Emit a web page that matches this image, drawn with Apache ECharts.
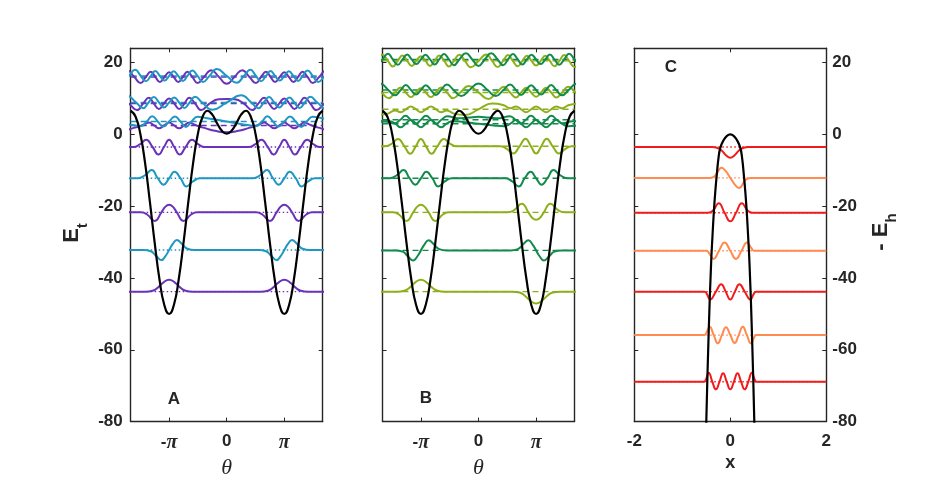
<!DOCTYPE html>
<html>
<head>
<meta charset="utf-8">
<script src="https://cdn.jsdelivr.net/npm/echarts@6/dist/echarts.min.js"></script>
<style>
  html, body { margin: 0; padding: 0; background: #fff; }
  #chart { width: 926px; height: 486px; }
</style>
</head>
<body>
<div id="chart"></div>
<script>
// black potential for panels A and B, read every 15 degrees
const thetaDeg = [-300,-285,-270,-255,-240,-225,-210,-195,-180,-165,-150,-135,-120,-105,-90,-75,-60,-45,-30,-15,
                  0,15,30,45,60,75,90,105,120,135,150,165,180,195,210,225,240,255,270,285,300];
const potAB = [6.6,5.0,0.2,-8.0,-18.8,-30.2,-40.4,-47.5,-50,-47.5,-40.4,-30.2,-18.8,-8.0,0.2,5.0,6.6,5.5,3.1,1.0,
               0.2,1.0,3.1,5.5,6.6,5.0,0.2,-8.0,-18.8,-30.2,-40.4,-47.5,-50,-47.5,-40.4,-30.2,-18.8,-8.0,0.2,5.0,6.6];

// black curve of panel C
const xC   = [-0.52,-0.5,-0.45,-0.4,-0.37,-0.34,-0.31,-0.28,-0.25,-0.21,-0.14,-0.07,0,0.07,0.14,0.21,0.25,0.28,0.31,0.34,0.37,0.4,0.45,0.5,0.52];
const potC = [-92,-80,-55,-36,-28,-21,-15.5,-11,-7,-3.8,-1.6,-0.4,0,-0.4,-1.6,-3.8,-7,-11,-15.5,-21,-28,-36,-55,-80,-92];

// levels
const energiesA = [-43.8,-32.2,-21.7,-12.2,-3.5,2.5,3.6,8.6,8.9,16.0,16.3];
const energiesB = [-43.8,-32.3,-21.7,-12.2,-3.3,3.0,4.1,7.0,11.7,12.4,20.5,20.9];
const energiesC = [-3.5,-12.1,-21.8,-32.4,-43.8,-55.9,-68.9];

// wave offsets from the level, [d, offset], d = distance from the well bottom (0..pi)
const well0 = [[0,3.3],[0.3,2.6],[0.6,1.2],[0.9,0.25],[1.3,0],[3.1416,0]];
const well1 = [[0,0],[0.2,1.7],[0.42,2.8],[0.7,1.7],[1.0,0.35],[1.4,0],[3.1416,0]];
const well2 = [[0,2.1],[0.2,1.6],[0.42,0],[0.78,-2.4],[1.2,-0.6],[1.55,0],[3.1416,0]];
const well3 = [[0,0],[0.3,1.8],[0.62,0],[0.95,-2.3],[1.3,-0.9],[1.7,0],[3.1416,0]];
const well4 = [[0,2.0],[0.28,0],[0.58,-2.1],[0.9,0],[1.25,2.0],[1.6,0.7],[1.95,0],[3.1416,0]];

const upA5  = [[0,0.8],[0.27,0],[0.55,-0.8],[0.82,0],[1.1,0.8],[1.35,0.3],[1.6,-0.2],[2.0,-0.8],[2.5,-1.5],[3.1416,-1.9]];
const upA6  = [[0,0],[0.32,1.4],[0.62,0],[0.92,-1.5],[1.22,0],[1.55,1.3],[2.0,1.0],[2.6,0.5],[3.1416,0]];
const upA7  = [[0,1.4],[0.28,0],[0.55,-1.5],[0.83,0],[1.1,1.6],[1.42,0],[1.75,-1.8],[2.2,0],[2.7,1.2],[3.1416,1.3]];
const upA8  = [[0,0],[0.28,1.4],[0.55,0],[0.83,-1.5],[1.12,0],[1.42,1.6],[1.8,0],[2.35,-2.0],[3.1416,0]];
const upA9  = [[0,1.3],[0.25,0],[0.5,-1.4],[0.75,0],[1.0,1.5],[1.27,0],[1.55,-1.7],[1.9,0],[2.3,1.9],[2.72,0],[3.1416,-1.9]];
const upA10 = [[0,0],[0.25,1.3],[0.5,0],[0.75,-1.4],[1.0,0],[1.27,1.5],[1.55,0],[1.85,-1.7],[2.2,0],[2.6,1.9],[3.1416,0]];

const upB5  = [[0,-1.0],[0.27,0],[0.55,1.0],[0.82,0],[1.1,-1.0],[1.4,0],[1.75,0.7],[2.3,0.5],[3.1416,0]];
const upB6  = [[0,0],[0.28,1.1],[0.56,0],[0.84,-1.1],[1.12,0],[1.45,1.0],[2.0,0.4],[2.6,0.6],[3.1416,0.8]];
const upB7  = [[0,-0.8],[0.27,0],[0.55,0.8],[0.82,0],[1.1,-0.8],[1.4,-0.3],[1.8,-1.2],[2.4,-1.6],[3.1416,0]];
const upB8  = [[0,1.2],[0.27,0],[0.54,-1.3],[0.82,0],[1.1,1.4],[1.42,0],[1.75,-1.6],[2.15,0],[2.6,1.8],[3.1416,0]];
const upB9  = [[0,0],[0.27,1.3],[0.54,0],[0.82,-1.4],[1.1,0],[1.42,1.5],[1.78,0],[2.2,-1.7],[2.65,0],[3.1416,1.8]];
const upB10 = [[0,1.3],[0.25,0],[0.5,-1.4],[0.75,0],[1.0,1.5],[1.27,0],[1.53,-1.6],[1.8,0],[2.1,1.7],[2.4,0],[2.72,-1.8],[3.1416,0]];
const upB11 = [[0,0],[0.25,1.3],[0.5,0],[0.75,-1.4],[1.0,0],[1.26,1.5],[1.53,0],[1.8,-1.6],[2.1,0],[2.45,1.7],[2.8,0],[3.1416,-1.8]];

const shapesA = [well0,well1,well2,well3,well4,upA5,upA6,upA7,upA8,upA9,upA10];
const parityA = [1,-1,1,-1,1,1,-1,1,-1,1,-1];
const shapesB = [well0,well1,well2,well3,well4,upB5,upB6,upB7,upB8,upB9,upB10,upB11];
const parityB = [1,-1,1,-1,1,1,-1,1,1,-1,1,-1];

// panel C waves, [x, offset]
const wavesC = [
  [[-0.38,0],[-0.28,-0.2],[-0.18,-1.0],[-0.09,-2.3],[0,-3.0],[0.09,-2.3],[0.18,-1.0],[0.28,-0.2],[0.38,0]],
  [[-0.42,0],[-0.32,0.5],[-0.18,2.8],[-0.09,1.8],[0,0],[0.09,-1.8],[0.18,-2.8],[0.32,-0.5],[0.42,0]],
  [[-0.46,0],[-0.36,0.6],[-0.24,2.6],[-0.12,0],[0,-2.4],[0.12,0],[0.24,2.6],[0.36,0.6],[0.46,0]],
  [[-0.5,0],[-0.44,-0.7],[-0.35,-2.3],[-0.235,0],[-0.12,2.3],[0,0],[0.12,-2.3],[0.235,0],[0.35,2.3],[0.44,0.7],[0.5,0]],
  [[-0.54,0],[-0.49,-0.6],[-0.42,-2.2],[-0.3,0],[-0.19,2.1],[-0.095,0],[0,-2.2],[0.095,0],[0.19,2.1],[0.3,0],[0.42,-2.2],[0.49,-0.6],[0.54,0]],
  [[-0.54,0],[-0.5,0.6],[-0.43,2.3],[-0.345,0],[-0.26,-2.3],[-0.175,0],[-0.09,2.2],[0,0],[0.09,-2.2],[0.175,0],[0.26,2.3],[0.345,0],[0.43,-2.3],[0.5,-0.6],[0.54,0]],
  [[-0.55,0],[-0.51,0.6],[-0.45,2.5],[-0.375,0],[-0.3,-2.1],[-0.225,0],[-0.15,2.4],[-0.075,0],[0,-2.1],[0.075,0],[0.15,2.4],[0.225,0],[0.3,-2.1],[0.375,0],[0.45,2.5],[0.51,0.6],[0.55,0]]
];

const yTicks = [-80,-60,-40,-20,0,20];

var P = '#6a32b8', T = '#1f97c2', G = '#128a4b', Y = '#8cb01a', R = '#f01c1c', O = '#ff8b50';
var colorsA = [P,T,P,T,P,P,T,P,T,P,T];
var colorsB = [Y,G,Y,G,Y,G,G,Y,Y,G,Y,G];
var colorsC = [R,O,R,O,R,O,R];

var AX = '#262626';
var FONT = 'Liberation Sans';
var TH = 5 * Math.PI / 3;

// mirror a half shape over the well, then lay it on both wells (sign -1: flipped in the right well)
function wellCurve(shape, parity, sign, E) {
    var full = [];
    for (var i = shape.length - 1; i > 0; i--) full.push([-shape[i][0], parity * shape[i][1]]);
    shape.forEach(function (p) { full.push(p); });
    var pts = [];
    full.forEach(function (p) { pts.push([p[0] - Math.PI, E + p[1]]); });
    full.forEach(function (p, i) { if (i > 0) pts.push([p[0] + Math.PI, E + sign * p[1]]); });
    return pts;
}

function line(gi, data, color, width, type, z, smooth) {
    return {
        type: 'line', xAxisIndex: 2 * gi, yAxisIndex: 2 * gi, data: data,
        showSymbol: false, smooth: smooth, silent: true, z: z,
        lineStyle: { color: color, width: width, type: type }
    };
}

var series = [];
function addPanel(gi, energies, colors, shapes, parity, sign, levelType) {
    energies.forEach(function (E, i) {
        var t = typeof levelType === 'function' ? levelType(i) : levelType;
        series.push(line(gi, [[-TH, E], [TH, E]], colors[i], 1.4, t, 1, false));
        series.push(line(gi, wellCurve(shapes[i], parity[i], sign, E), colors[i], 2, 'solid', 2, 0.5));
    });
    series.push(line(gi, thetaDeg.map(function (d, i) { return [d * Math.PI / 180, potAB[i]]; }), '#000', 2.2, 'solid', 3, 0.5));
}
addPanel(0, energiesA, colorsA, shapesA, parityA, 1, function (i) { return i < 5 ? [1.5, 2.5] : [6, 4]; });
addPanel(1, energiesB, colorsB, shapesB, parityB, -1, [6, 4]);

energiesC.forEach(function (E, i) {
    series.push(line(2, [[-2, E], [2, E]], colorsC[i], 1.4, [1.5, 2.5], 1, false));
    var pts = [[-2, E]].concat(wavesC[i].map(function (p) { return [p[0], E + p[1]]; }), [[2, E]]);
    series.push(line(2, pts, colorsC[i], 2, 'solid', 2, 0.5));
});
series.push(line(2, xC.map(function (x, i) { return [x, potC[i]]; }), '#000', 2.2, 'solid', 3, 0.5));

var tickLabel = { color: AX, fontFamily: FONT, fontWeight: 'bold', fontSize: 17 };
var axisLineStyle = { onZero: false, lineStyle: { color: AX, width: 1.4 } };

function thetaAxes(gi) {
    var ticks = [-Math.PI, 0, Math.PI];
    return [{
        gridIndex: gi, type: 'value', min: -TH, max: TH, position: 'bottom',
        axisLine: axisLineStyle, splitLine: { show: false },
        axisTick: { inside: true, length: 4, customValues: ticks, lineStyle: { color: AX } },
        axisLabel: Object.assign({}, tickLabel, {
            customValues: ticks, margin: 11,
            formatter: function (v) { return v < -1 ? '{m|-}{p|π}' : (v > 1 ? '{p|π}' : '0'); },
            rich: {
                m: { fontFamily: FONT, fontWeight: 'bold', fontSize: 17, color: AX },
                p: { fontFamily: 'Liberation Serif', fontStyle: 'italic', fontSize: 20, color: AX }
            }
        }),
        name: 'θ', nameLocation: 'middle', nameGap: 29,
        nameTextStyle: { fontFamily: 'Liberation Serif', fontStyle: 'italic', fontSize: 22, color: AX }
    }, {
        gridIndex: gi, type: 'value', min: -TH, max: TH, position: 'top',
        axisLine: axisLineStyle, splitLine: { show: false }, axisLabel: { show: false },
        axisTick: { inside: true, length: 4, customValues: ticks, lineStyle: { color: AX } }
    }];
}

function yAxes(gi, labelSide) {
    return ['left', 'right'].map(function (side) {
        return {
            gridIndex: gi, type: 'value', min: -80, max: 24, position: side,
            axisLine: axisLineStyle, splitLine: { show: false },
            axisTick: { inside: true, length: 4, customValues: yTicks, lineStyle: { color: AX } },
            axisLabel: Object.assign({}, tickLabel, { show: side === labelSide, customValues: yTicks, margin: side === 'left' ? 8 : 6 })
        };
    });
}

var xAxisC = [{
    gridIndex: 2, type: 'value', min: -2, max: 2, interval: 2, position: 'bottom',
    axisLine: axisLineStyle, splitLine: { show: false },
    axisTick: { inside: true, length: 4, lineStyle: { color: AX } },
    axisLabel: Object.assign({}, tickLabel, { margin: 11 }),
    name: 'x', nameLocation: 'middle', nameGap: 30,
    nameTextStyle: { fontFamily: FONT, fontWeight: 'bold', fontSize: 18, color: AX }
}, {
    gridIndex: 2, type: 'value', min: -2, max: 2, interval: 2, position: 'top',
    axisLine: axisLineStyle, splitLine: { show: false }, axisLabel: { show: false },
    axisTick: { inside: true, length: 4, lineStyle: { color: AX } }
}];

function panelText(txt, x, y) {
    return { type: 'text', x: x, y: y, silent: true,
        style: { text: txt, fill: AX, font: 'bold 17px ' + FONT, align: 'center', verticalAlign: 'middle' } };
}

var chart = echarts.init(document.getElementById('chart'), null, { renderer: 'canvas' });
chart.setOption({
    backgroundColor: '#fff',
    animation: false,
    grid: [
        { left: 130.7, top: 48.3, width: 192, height: 373.3 },
        { left: 382.5, top: 48.3, width: 192, height: 373.3 },
        { left: 634.3, top: 48.3, width: 192, height: 373.3 }
    ],
    xAxis: thetaAxes(0).concat(thetaAxes(1), xAxisC),
    yAxis: yAxes(0, 'left').concat(yAxes(1, 'none'), yAxes(2, 'right')),
    series: series,
    graphic: [
        panelText('A', 174, 399),
        panelText('B', 426, 398),
        panelText('C', 671, 67),
        { type: 'text', x: 72, y: 233, rotation: Math.PI / 2, silent: true,
          style: { text: '{e|E}{s|t}', align: 'center', verticalAlign: 'middle',
                   rich: { e: { fill: AX, fontFamily: FONT, fontWeight: 'bold', fontSize: 22, lineHeight: 22, verticalAlign: 'top' },
                           s: { fill: AX, fontFamily: FONT, fontWeight: 'bold', fontSize: 15, lineHeight: 15, verticalAlign: 'top', padding: [14, 0, 0, 0] } } } },
        { type: 'text', x: 881, y: 232, rotation: Math.PI / 2, silent: true,
          style: { text: '{e|- E}{s|h}', align: 'center', verticalAlign: 'middle',
                   rich: { e: { fill: AX, fontFamily: FONT, fontWeight: 'bold', fontSize: 22, lineHeight: 22, verticalAlign: 'top' },
                           s: { fill: AX, fontFamily: FONT, fontWeight: 'bold', fontSize: 15, lineHeight: 15, verticalAlign: 'top', padding: [14, 0, 0, 0] } } } }
    ]
});
</script>
</body>
</html>
